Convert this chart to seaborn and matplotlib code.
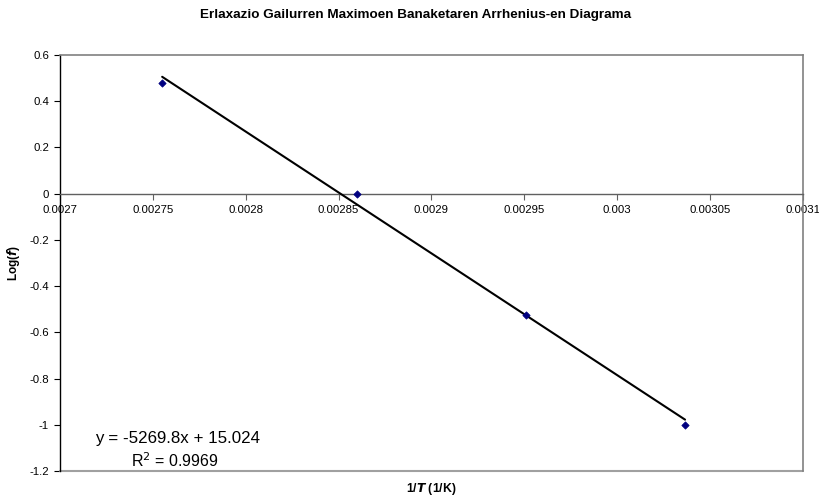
import numpy as np
import pandas as pd
import matplotlib
matplotlib.use("Agg")
import matplotlib.pyplot as plt
import seaborn as sns

# Data
inv_T = [0.002755, 0.00286, 0.002951, 0.0030365]
log_f = [0.477, 0.0, -0.523, -1.0]
slope = -5269.8
intercept = 15.024
r2 = 0.9969
x_ticks = [0.0027, 0.00275, 0.0028, 0.00285, 0.0029, 0.00295, 0.003, 0.00305, 0.0031]
x_tick_labels = ["0.0027", "0.00275", "0.0028", "0.00285", "0.0029", "0.00295", "0.003", "0.00305", "0.0031"]
y_ticks = [-1.2, -1, -0.8, -0.6, -0.4, -0.2, 0, 0.2, 0.4, 0.6]
y_tick_labels = ["-1.2", "-1", "-0.8", "-0.6", "-0.4", "-0.2", "0", "0.2", "0.4", "0.6"]

sns.set_style("white")
plt.rcParams['font.family'] = ['Liberation Sans', 'DejaVu Sans']
plt.rcParams['text.color'] = 'black'

W, H = 819, 499
fig = plt.figure(figsize=(W / 100, H / 100), dpi=100)
ax = fig.add_axes([60 / W, 1 - 471 / H, (803 - 60) / W, (471 - 55) / H])

# Spines: x axis at zero (set before ticks, since it resets them)
ax.spines['bottom'].set_position(('data', 0))

df = pd.DataFrame({"x": inv_T, "y": log_f})
fit_x = np.array([min(inv_T), max(inv_T)])
fit_df = pd.DataFrame({"x": fit_x, "y": slope * fit_x + intercept})

sns.lineplot(data=fit_df, x="x", y="y", color="black", linewidth=1.5, ax=ax, zorder=3)
sns.scatterplot(data=df, x="x", y="y", marker="D", s=14, color="#000080",
                edgecolor="#000080", linewidth=0.5, ax=ax, zorder=4)

ax.set_xlim(0.0027, 0.0031)
ax.set_ylim(-1.2, 0.6)
ax.set_xticks(x_ticks)
ax.set_xticklabels(x_tick_labels)
ax.set_yticks(y_ticks)
ax.set_yticklabels(y_tick_labels)

ax.spines['bottom'].set_color('#606060')
ax.spines['bottom'].set_linewidth(1.0)
ax.spines['left'].set_color('black')
ax.spines['left'].set_linewidth(1.0)
for s in ['top', 'right']:
    ax.spines[s].set_color('#808080')
    ax.spines[s].set_linewidth(1.2)
    ax.spines[s].set_visible(True)
ax.axhline(-1.2, color='#a0a0a0', linewidth=1.5, zorder=1, clip_on=False)

ax.tick_params(axis='x', direction='out', length=4, width=0.8, color='#606060', pad=4.5,
               bottom=True, labelsize=8.2, labelcolor='black')
ax.tick_params(axis='y', direction='out', length=4, width=0.8, color='black', pad=4,
               left=True, labelsize=8.2, labelcolor='black')

ax.set_xlabel("")
ax.set_ylabel("")
fig.text(416 / W, 1 - 15 / H, "Erlaxazio Gailurren Maximoen Banaketaren Arrhenius-en Diagrama",
         ha='center', va='center', fontsize=9.7, fontweight='bold', color='black')
fig.text(13 / W, 1 - 263 / H, r"Log($\mathbfit{f}$)", rotation=90, ha='center', va='center',
         fontsize=8.5, fontweight='bold', color='black')
fig.text(431 / W, 1 - 489 / H, r"1/$\mathbfit{T}$ (1/K)", ha='center', va='center',
         fontsize=8.8, fontweight='bold', color='black')

ax.text(0.0027 + (95 - 60) / 743 * 0.0004, -1.2 + (471 - 438) / 416 * 1.8,
        "y = -5269.8x + 15.024", fontsize=12.2, ha='left', va='center', color='black')
ax.text(0.0027 + (131 - 60) / 743 * 0.0004, -1.2 + (471 - 461) / 416 * 1.8,
        r"R$^2$ = 0.9969", fontsize=11.5, ha='left', va='center', color='black')

fig.savefig("out.png", dpi=100)
